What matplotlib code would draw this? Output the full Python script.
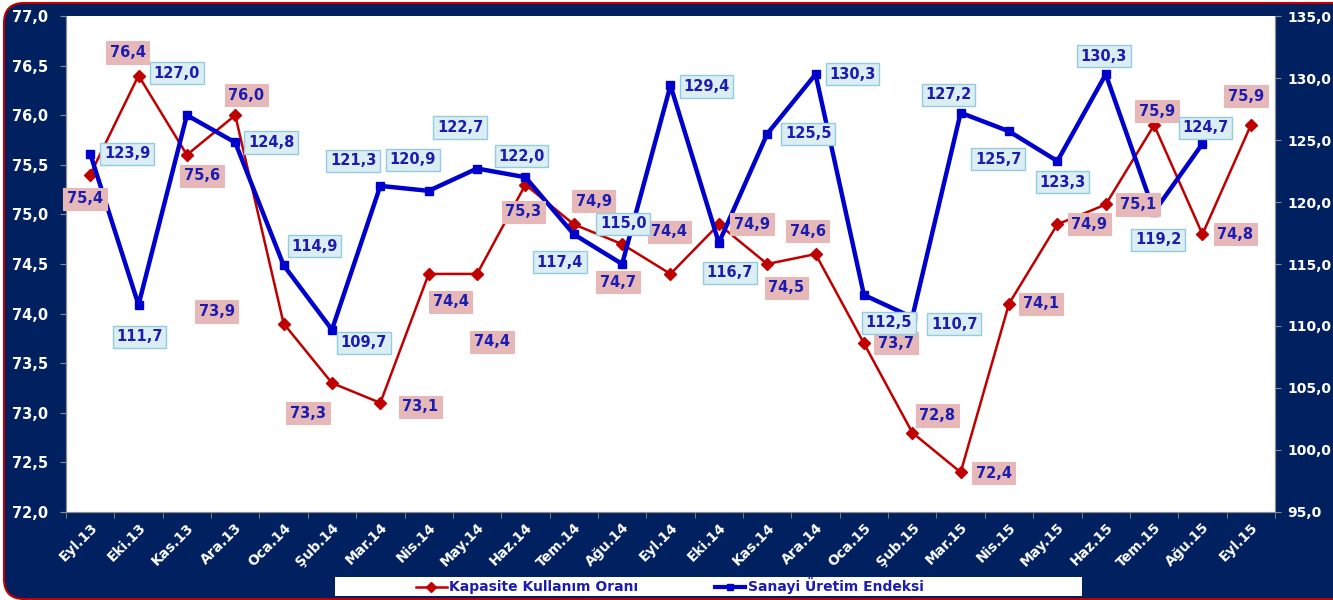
import matplotlib
matplotlib.use('Agg')
import matplotlib.pyplot as plt
from matplotlib.patches import FancyBboxPatch, Rectangle
from matplotlib.lines import Line2D
import numpy as np

# data
months = ['Eyl.13', 'Eki.13', 'Kas.13', 'Ara.13', 'Oca.14', 'Şub.14', 'Mar.14', 'Nis.14',
          'May.14', 'Haz.14', 'Tem.14', 'Ağu.14', 'Eyl.14', 'Eki.14', 'Kas.14', 'Ara.14',
          'Oca.15', 'Şub.15', 'Mar.15', 'Nis.15', 'May.15', 'Haz.15', 'Tem.15', 'Ağu.15', 'Eyl.15']
kapasite = [75.4, 76.4, 75.6, 76.0, 73.9, 73.3, 73.1, 74.4, 74.4, 75.3, 74.9, 74.7, 74.4,
            74.9, 74.5, 74.6, 73.7, 72.8, 72.4, 74.1, 74.9, 75.1, 75.9, 74.8, 75.9]
sanayi = [123.9, 111.7, 127.0, 124.8, 114.9, 109.7, 121.3, 120.9, 122.7, 122.0, 117.4, 115.0,
          129.4, 116.7, 125.5, 130.3, 112.5, 110.7, 127.2, 125.7, 123.3, 130.3, 119.2, 124.7]
left_ticks = [72.0, 72.5, 73.0, 73.5, 74.0, 74.5, 75.0, 75.5, 76.0, 76.5, 77.0]
right_ticks = [95, 100, 105, 110, 115, 120, 125, 130, 135]

# label offsets in pixels (dx, dy downwards)
red_off = [(-5, 24), (-11, -23), (15, 21), (11, -20), (-67, -12), (-24, 30), (40, 4), (22, 28),
           (15, 68), (-2, 27), (20, -23), (-4, 38), (-1, -42), (33, 0), (19, 24), (-8, -23),
           (32, 0), (25, -17), (33, 1), (32, 0), (32, 0), (32, 0), (3, -14), (33, 0), (-5, -29)]
blue_off = [(37, 0), (1, 32), (-10, -42), (36, 0), (31, -19), (32, 13), (-27, -25), (-16, -31),
            (-17, -41), (-4, -21), (-14, 28), (1, -40), (36, 1), (11, 30), (41, 0), (37, 0),
            (25, 28), (42, 7), (-12, -18), (-11, 28), (5, 21), (-2, -18), (4, 28), (3, -16)]

NAVY = '#002060'
RED = '#c00000'
BLUE = '#0000cc'
TXT = '#1c1cb0'
GRAY = '#8c8c8c'


def fmt(v):
    return f'{v:.1f}'.replace('.', ',')


fig = plt.figure(figsize=(13.33, 6), dpi=100)
fig.patch.set_facecolor('white')
frame = FancyBboxPatch((0.04, 0.01), 13.6, 5.96, boxstyle='round,pad=0,rounding_size=0.2',
                       transform=fig.dpi_scale_trans, facecolor=NAVY, edgecolor=RED,
                       linewidth=1.5, zorder=-2)
fig.patches.append(frame)
# legend strip
fig.patches.append(Rectangle((335 / 1333, 4 / 600), 747 / 1333, 19 / 600,
                             transform=fig.transFigure, facecolor='white', edgecolor='none',
                             zorder=-1))

ax = fig.add_axes([0.0495, 0.1467, 0.907, 0.8266])
ax.set_facecolor('white')
ax2 = ax.twinx()

x = np.arange(len(months))
xs = x[:len(sanayi)]
ax.plot(x, kapasite, color=RED, lw=1.8, marker='D', ms=6, zorder=3)
ax2.plot(xs, sanayi, color=BLUE, lw=3.2, marker='s', ms=6, zorder=3)

ax.set_xlim(-0.5, len(months) - 0.5)
ax.set_ylim(72, 77)
ax2.set_ylim(95, 135)

# axes styling
ax.set_yticks(left_ticks)
ax.set_yticklabels([fmt(v) for v in left_ticks], color='white', fontweight='bold', fontsize=10.5)
ax2.set_yticks(right_ticks)
ax2.set_yticklabels([fmt(v) for v in right_ticks], color='white', fontweight='bold', fontsize=10)
ax.tick_params(axis='y', length=4, color=GRAY, pad=9)
ax2.tick_params(axis='y', length=4, color=GRAY, pad=5)

ax.set_xticks(x)
ax.set_xticklabels(months, rotation=45, ha='right', rotation_mode='anchor',
                   color='white', fontweight='bold', fontsize=10)
ax.tick_params(axis='x', length=0, pad=6)
ax.set_xticks(np.arange(-0.5, len(months), 1), minor=True)
ax.tick_params(axis='x', which='minor', length=4, color=GRAY)

for a in (ax, ax2):
    a.spines['top'].set_visible(False)
    for s in ('left', 'right', 'bottom'):
        a.spines[s].set_color(GRAY)

# data labels
for i, v in enumerate(kapasite):
    dx, dy = red_off[i]
    ax2.annotate(fmt(v), xy=(x[i], v), xycoords=ax.transData, xytext=(dx, -dy),
                 textcoords='offset pixels', ha='center', va='center', color=TXT,
                 fontsize=10.5, fontweight='bold', zorder=5,
                 bbox=dict(boxstyle='square,pad=0.25', fc='#e6b9b8', ec='#e6b9b8', lw=0.8))
for i, v in enumerate(sanayi):
    dx, dy = blue_off[i]
    ax2.annotate(fmt(v), xy=(xs[i], v), xytext=(dx, -dy),
                 textcoords='offset pixels', ha='center', va='center', color=TXT,
                 fontsize=10.5, fontweight='bold', zorder=5,
                 bbox=dict(boxstyle='square,pad=0.25', fc='#dbeef4', ec='#93cddd', lw=1))

handles = [Line2D([], [], color=RED, lw=1.8, marker='D', ms=5),
           Line2D([], [], color=BLUE, lw=3, marker='s', ms=5)]
leg = fig.legend(handles, ['Kapasite Kullanım Oranı', 'Sanayi Üretim Endeksi'],
                 loc='center', bbox_to_anchor=(670 / 1333, 1 - 586 / 600), ncol=2,
                 frameon=False, columnspacing=5.5, handlelength=2.2, handletextpad=0.2,
                 prop={'weight': 'bold', 'size': 10})
for t in leg.get_texts():
    t.set_color(TXT)

fig.savefig('out.png', dpi=100, facecolor=fig.get_facecolor())
